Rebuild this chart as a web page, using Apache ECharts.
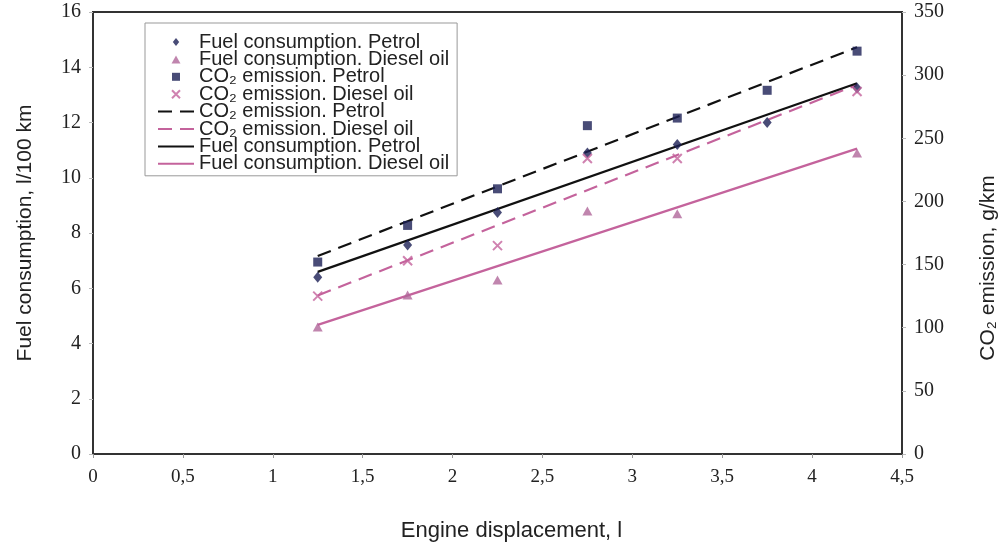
<!DOCTYPE html>
<html>
<head>
<meta charset="utf-8">
<script src="https://cdn.jsdelivr.net/npm/echarts@6/dist/echarts.min.js"></script>
<style>
  html, body { margin: 0; padding: 0; background: #fff; }
  #chart { width: 1008px; height: 550px; }
</style>
</head>
<body>
<div id="chart"></div>
<script>
// Engine displacement, l
const displacement = [1.25, 1.75, 2.25, 2.75, 3.25, 3.75, 4.25];
// Fuel consumption, l/100 km
const fuelPetrol = [6.4, 7.57, 8.74, 10.9, 11.2, 12.0, 13.25];
const fuelDiesel = [4.6, 5.76, 6.3, 8.8, 8.7, null, 10.9];
// CO2 emission, g/km
const co2Petrol = [152, 181, 210, 260, 266, 288, 319];
const co2Diesel = [125, 153, 165, 234, 234, null, 287];

const NAVY = '#1c1f55';
const BLACK = '#111111';
const PINK = '#c4639c';
const MAUVE = '#b0679a';
const CROSS = 'path://M0,0L10,10M10,0L0,10';
// Marker shapes as paths so the legend keeps their proportions
const DIAMOND = 'path://M4,0L8,5L4,10L0,5Z';
const TRIANGLE = 'path://M5,0L10,9L0,9Z';
const SQUARE = 'path://M0,0L10,0L10,10L0,10Z';

function pairs(xs, ys) {
  return xs.map((x, i) => [x, ys[i]]).filter(p => p[1] != null);
}

// Least-squares straight line through the measured points, drawn across their x range
function trend(xs, ys) {
  const pts = pairs(xs, ys);
  const n = pts.length;
  const mx = pts.reduce((s, p) => s + p[0], 0) / n;
  const my = pts.reduce((s, p) => s + p[1], 0) / n;
  let sxy = 0, sxx = 0;
  pts.forEach(p => { sxy += (p[0] - mx) * (p[1] - my); sxx += (p[0] - mx) * (p[0] - mx); });
  const b = sxy / sxx, a = my - b * mx;
  const x0 = pts[0][0], x1 = pts[n - 1][0];
  return [[x0, a + b * x0], [x1, a + b * x1]];
}

const TREND = ' (trend)';
const comma = v => String(v).replace('.', ',');
const noDot = { color: 'rgba(0,0,0,0)', borderWidth: 0, opacity: 0 };

const chart = echarts.init(document.getElementById('chart'));
chart.setOption({
  animation: false,
  backgroundColor: '#fff',
  grid: {
    left: 93, right: 106, top: 12, bottom: 96,
    show: true, borderColor: '#333', borderWidth: 2
  },
  legend: {
    orient: 'vertical',
    left: 145, top: 23,
    padding: [9, 8, 2, 12],
    backgroundColor: '#fff',
    borderColor: '#999', borderWidth: 1,
    itemWidth: 36, itemHeight: 8, itemGap: -2.6,
    symbolKeepAspect: true,
    textStyle: { fontFamily: 'Liberation Sans', fontSize: 20, color: '#222' },
    formatter: name => name.replace(TREND, ''),
    data: [
      { name: 'Fuel consumption. Petrol', icon: DIAMOND },
      { name: 'Fuel consumption. Diesel oil', icon: TRIANGLE },
      { name: 'CO₂ emission. Petrol', icon: SQUARE },
      { name: 'CO₂ emission. Diesel oil', icon: CROSS },
      { name: 'CO₂ emission. Petrol' + TREND, itemStyle: noDot },
      { name: 'CO₂ emission. Diesel oil' + TREND, itemStyle: noDot },
      { name: 'Fuel consumption. Petrol' + TREND, itemStyle: noDot },
      { name: 'Fuel consumption. Diesel oil' + TREND, itemStyle: noDot }
    ]
  },
  xAxis: {
    type: 'value', min: 0, max: 4.5, interval: 0.5,
    name: 'Engine displacement, l', nameLocation: 'middle', nameGap: 66,
    nameTextStyle: { fontFamily: 'Liberation Sans', fontSize: 22, color: '#222', padding: [0, 0, 0, 28] },
    axisLine: { lineStyle: { color: '#333', width: 2 } },
    axisTick: { show: true, length: 4, lineStyle: { color: '#999' } },
    axisLabel: { fontFamily: 'Liberation Serif', fontSize: 19, color: '#222', margin: 14, formatter: comma },
    splitLine: { show: false }
  },
  yAxis: [
    {
      type: 'value', min: 0, max: 16, interval: 2, position: 'left',
      name: 'Fuel consumption, l/100 km', nameLocation: 'middle', nameGap: 57,
      nameTextStyle: { fontFamily: 'Liberation Sans', fontSize: 21, color: '#222' },
      axisLine: { show: true, lineStyle: { color: '#333', width: 2 } },
      axisTick: { show: true, length: 4, lineStyle: { color: '#bbb' } },
      axisLabel: { fontFamily: 'Liberation Serif', fontSize: 20, color: '#222', margin: 12 },
      splitLine: { show: false }
    },
    {
      type: 'value', min: 0, max: 350, interval: 50, position: 'right',
      name: 'CO₂ emission, g/km', nameLocation: 'middle', nameGap: 76, nameRotate: 90,
      nameTextStyle: { fontFamily: 'Liberation Sans', fontSize: 21, color: '#222', padding: [0, 70, 0, 0] },
      axisLine: { show: true, lineStyle: { color: '#333', width: 2 } },
      axisTick: { show: true, length: 4, lineStyle: { color: '#bbb' } },
      axisLabel: { fontFamily: 'Liberation Serif', fontSize: 20, color: '#222', margin: 12 },
      splitLine: { show: false }
    }
  ],
  series: [
    {
      name: 'Fuel consumption. Petrol', type: 'scatter', yAxisIndex: 0,
      symbol: 'diamond', symbolSize: [9, 11], z: 5,
      itemStyle: { color: NAVY },
      data: pairs(displacement, fuelPetrol)
    },
    {
      name: 'Fuel consumption. Diesel oil', type: 'scatter', yAxisIndex: 0,
      symbol: 'triangle', symbolSize: [10, 9], z: 5,
      itemStyle: { color: MAUVE },
      data: pairs(displacement, fuelDiesel)
    },
    {
      name: 'CO₂ emission. Petrol', type: 'scatter', yAxisIndex: 1,
      symbol: 'rect', symbolSize: 9, z: 5,
      itemStyle: { color: NAVY },
      data: pairs(displacement, co2Petrol)
    },
    {
      name: 'CO₂ emission. Diesel oil', type: 'scatter', yAxisIndex: 1,
      symbol: CROSS, symbolSize: 9, z: 5,
      itemStyle: { color: 'rgba(0,0,0,0)', borderColor: PINK, borderWidth: 2 },
      data: pairs(displacement, co2Diesel)
    },
    {
      name: 'CO₂ emission. Petrol' + TREND, type: 'line', yAxisIndex: 1,
      symbol: 'none', z: 3,
      lineStyle: { color: BLACK, width: 2.2, type: [14, 8] },
      itemStyle: { color: BLACK },
      data: trend(displacement, co2Petrol)
    },
    {
      name: 'CO₂ emission. Diesel oil' + TREND, type: 'line', yAxisIndex: 1,
      symbol: 'none', z: 3,
      lineStyle: { color: PINK, width: 2.2, type: [14, 8] },
      itemStyle: { color: PINK },
      data: trend(displacement, co2Diesel)
    },
    {
      name: 'Fuel consumption. Petrol' + TREND, type: 'line', yAxisIndex: 0,
      symbol: 'none', z: 3,
      lineStyle: { color: BLACK, width: 2.2 },
      itemStyle: { color: BLACK },
      data: trend(displacement, fuelPetrol)
    },
    {
      name: 'Fuel consumption. Diesel oil' + TREND, type: 'line', yAxisIndex: 0,
      symbol: 'none', z: 3,
      lineStyle: { color: PINK, width: 2.2 },
      itemStyle: { color: PINK },
      data: trend(displacement, fuelDiesel)
    }
  ]
});
</script>
</body>
</html>
